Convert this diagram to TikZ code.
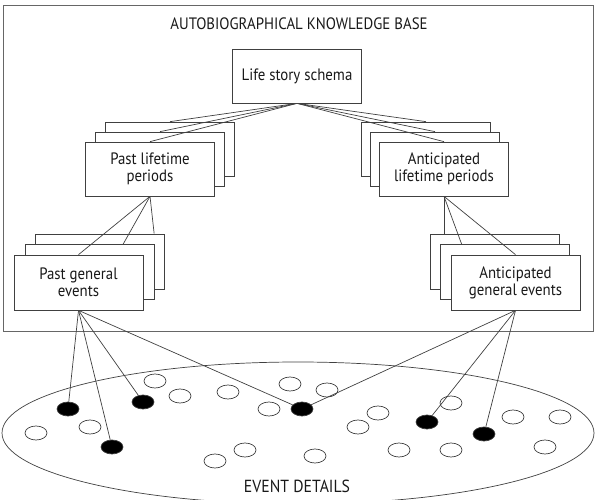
\documentclass[tikz,border=0pt]{standalone}
\usepackage{fontspec}
\setmainfont{PT Sans}[FakeStretch=0.9]
\usetikzlibrary{positioning, shapes.geometric}

\begin{document}
\begin{tikzpicture}[x=1pt, y=-1pt, line width=0.7pt, draw=black!75,
    every node/.style={font=\fontsize{16.5}{17}\selectfont, text=black!90},
    box/.style={draw=black!75, fill=white, rectangle, minimum width=129pt, minimum height=54pt, inner sep=0pt, align=center},
    hole/.style={draw=black!75, fill=white, ellipse, minimum width=22pt, minimum height=14pt, inner sep=0pt},
    dot/.style={hole, fill=black}]
    \useasboundingbox (0,0) rectangle (597,500);
    \clip (0,0) rectangle (597,500);

    % knowledge base
    \node[draw=black!60, rectangle, minimum width=590pt, minimum height=326pt, inner sep=0pt] (akb) at (298,168) {};
    \node[font=\fontsize{16.5}{17}\selectfont] (title) at (299,24) {AUTOBIOGRAPHICAL KNOWLEDGE BASE};
    \node[box] (lss) at (297,76) {Life story schema};

    % lifetime periods
    \node[box] (plp3) at (170,149) {};
    \node[box] (plp2) at (160,159) {};
    \node[box] (plp1) at (150,169) {Past lifetime\\periods};
    \node[box] (alp3) at (426,149) {};
    \node[box] (alp2) at (435,159) {};
    \node[box] (alp1) at (444,169) {Anticipated\\lifetime periods};

    % general events
    \node[box, minimum height=55pt] (pge3) at (100,261.5) {};
    \node[box, minimum height=55pt] (pge2) at (90,272) {};
    \node[box, minimum height=55pt] (pge1) at (78.5,282.5) {Past general\\events};
    \node[box, minimum height=55pt] (age3) at (494.5,261.5) {};
    \node[box, minimum height=55pt] (age2) at (504.5,272) {};
    \node[box, minimum height=55pt] (age1) at (515.5,282.5) {Anticipated\\general events};

    \draw (lss.south) -- (plp3.north);
    \draw (lss.south) -- (plp2.north);
    \draw (lss.south) -- (plp1.north);
    \draw (lss.south) -- (alp3.north);
    \draw (lss.south) -- (alp2.north);
    \draw (lss.south) -- (alp1.north);

    \draw (plp1.south) -- (pge1.north);
    \draw (plp1.south) -- ([xshift=98pt]pge2.north west);
    \draw (plp1.south) -- ([xshift=119pt]pge3.north west);
    \draw (alp1.south) -- (alp1.south |- age3.north);
    \draw (alp1.south) -- ([xshift=22pt]age2.north west);
    \draw (alp1.south) -- (age1.north);

    % event details
    \node[draw=black!75, ellipse, minimum width=592pt, minimum height=142pt, inner sep=0pt] (details) at (298,433) {};
    \node[font=\fontsize{17.5}{18}\selectfont] (evlabel) at (297,486) {EVENT DETAILS};

    \foreach \x/\y [count=\i] in {155/381, 180/396, 90/427, 36/433, 228/392, 290/384, 327/390,
        269/409, 378/413, 358/427, 245/450, 215/461, 315/456, 399/450, 451/403, 513/417,
        560/417, 545/447, 451/450}
        \node[hole] (c\i) at (\x,\y) {};

    \node[dot] (d1) at (68,409) {};
    \node[dot] (d2) at (143,402) {};
    \node[dot] (d3) at (112,447) {};
    \node[dot] (d4) at (302,409) {};
    \node[dot] (d5) at (427,422) {};
    \node[dot] (d6) at (484,434) {};

    \draw (pge1.south) -- (d1);
    \draw (pge1.south) -- (d2);
    \draw (pge1.south) -- (d3);
    \draw (pge1.south) -- (d4);
    \draw (age1.south) -- (d4);
    \draw (age1.south) -- (d5);
    \draw (age1.south) -- (d6);
\end{tikzpicture}
\end{document}
